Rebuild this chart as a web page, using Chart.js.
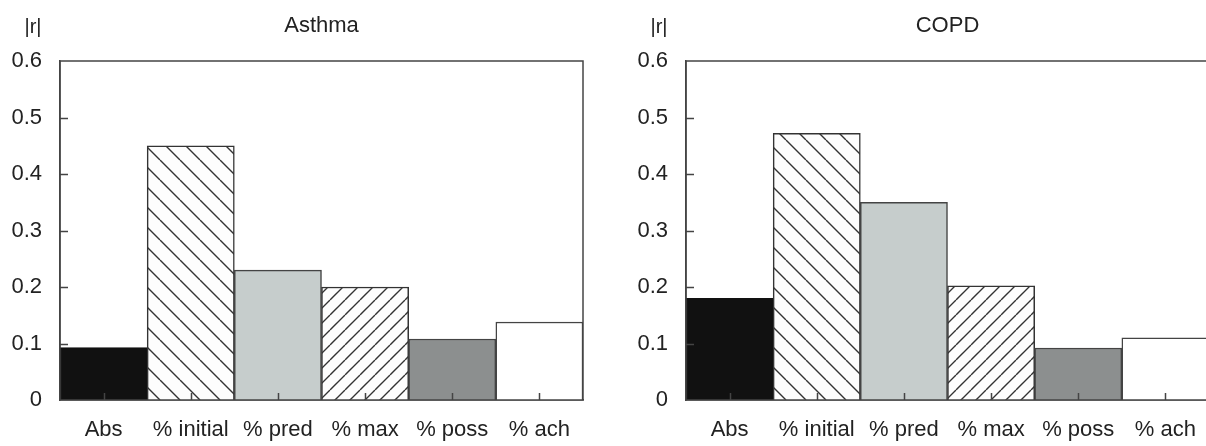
<!DOCTYPE html>
<html>
<head>
<meta charset="utf-8">
<title>|r| Asthma / COPD</title>
<script src="https://cdn.jsdelivr.net/npm/chart.js@4.4.1/dist/chart.umd.min.js"></script>
<style>
    html, body { margin: 0; padding: 0; background: #ffffff; overflow: hidden; }
    body { width: 1206px; height: 446px; position: relative; }
    canvas { position: absolute; top: 0; }
    #asthma-chart { left: 0; }
    #copd-chart { left: 626px; }
</style>
</head>
<body>
<canvas id="asthma-chart" width="600" height="446"></canvas>
<canvas id="copd-chart" width="600" height="446"></canvas>
<script>
// Data
const categories = ['Abs', '% initial', '% pred', '% max', '% poss', '% ach'];
const asthmaValues = [0.093, 0.45, 0.23, 0.20, 0.108, 0.138];
const copdValues = [0.18, 0.472, 0.35, 0.202, 0.092, 0.11];
const yMin = 0;
const yMax = 0.6;
const yStep = 0.1;
const axisLabel = '|r|';

const FONT = '"Liberation Sans", Arial, Helvetica, sans-serif';
const TEXT_COLOR = '#222222';
const LINE_COLOR = '#444444';

// Hatch patterns
function makeHatch(size, backslash) {
    const c = document.createElement('canvas');
    c.width = size;
    c.height = size;
    const ctx = c.getContext('2d');
    ctx.fillStyle = '#fdfdfd';
    ctx.fillRect(0, 0, size, size);
    ctx.strokeStyle = '#333333';
    ctx.lineWidth = 1.4;
    ctx.beginPath();
    for (let k = -1; k <= 1; k++) {
        if (backslash) {
            ctx.moveTo(k * size, 0);
            ctx.lineTo(k * size + size, size);
        } else {
            ctx.moveTo(k * size, size);
            ctx.lineTo(k * size + size, 0);
        }
    }
    ctx.stroke();
    return ctx.createPattern(c, 'repeat');
}

const backHatch = makeHatch(20, true);
const fwdHatch = makeHatch(15, false);

const barColors = ['#111111', backHatch, '#c6cdcc', fwdHatch, '#8c8f8f', '#ffffff'];
const barBorders = ['#111111', '#333333', '#444444', '#333333', '#444444', '#444444'];

// Frame, inward ticks and texts
const framePlugin = {
    id: 'frame',
    afterDatasetsDraw(chart) {
        const { ctx, chartArea } = chart;
        const x = chart.scales.x;
        const y = chart.scales.y;
        ctx.save();
        ctx.strokeStyle = LINE_COLOR;
        ctx.lineWidth = 1.5;
        ctx.beginPath();
        // inward y ticks
        y.ticks.forEach(t => {
            if (t.value <= yMin || t.value >= yMax) return;
            const py = Math.round(y.getPixelForValue(t.value)) + 0.5;
            ctx.moveTo(chartArea.left, py);
            ctx.lineTo(chartArea.left + 8, py);
        });
        // inward x ticks at bar centres
        categories.forEach((c, i) => {
            const px = Math.round(x.getPixelForValue(i)) + 0.5;
            ctx.moveTo(px, chartArea.bottom);
            ctx.lineTo(px, chartArea.bottom - 7);
        });
        ctx.stroke();
        // box
        ctx.strokeRect(chartArea.left, chartArea.top, chartArea.right - chartArea.left, chartArea.bottom - chartArea.top);
        ctx.restore();
    },
    afterDraw(chart, args, opts) {
        const { ctx, chartArea } = chart;
        ctx.save();
        ctx.fillStyle = TEXT_COLOR;
        ctx.textAlign = 'center';
        ctx.textBaseline = 'alphabetic';
        ctx.font = '22px ' + FONT;
        ctx.fillText(opts.title, (chartArea.left + chartArea.right) / 2, 32);
        ctx.font = '20px ' + FONT;
        ctx.fillText(axisLabel, chartArea.left - 27, 33);
        ctx.restore();
    }
};

function renderChart(canvasId, title, values) {
    return new Chart(document.getElementById(canvasId), {
        type: 'bar',
        data: {
            labels: categories,
            datasets: [{
                data: values,
                backgroundColor: barColors,
                borderColor: barBorders,
                borderWidth: 1.5,
                barPercentage: 1.0,
                categoryPercentage: 1.0
            }]
        },
        options: {
            responsive: false,
            animation: false,
            layout: {
                padding: { top: 61, right: 17, bottom: 0, left: 0 }
            },
            plugins: {
                legend: { display: false },
                tooltip: { enabled: false },
                frame: { title: title }
            },
            scales: {
                x: {
                    grid: { display: false },
                    border: { display: true, color: LINE_COLOR, width: 1.5 },
                    ticks: {
                        color: TEXT_COLOR,
                        font: { family: FONT, size: 22 },
                        padding: 9,
                        maxRotation: 0,
                        autoSkip: false
                    },
                    afterFit(scale) { scale.height = 46; }
                },
                y: {
                    min: yMin,
                    max: yMax,
                    grid: { display: false, drawTicks: false },
                    border: { display: true, color: LINE_COLOR, width: 1.5 },
                    ticks: {
                        stepSize: yStep,
                        color: TEXT_COLOR,
                        font: { family: FONT, size: 22 },
                        padding: 18,
                        callback: v => String(Number(v.toFixed(1)))
                    },
                    afterFit(scale) { scale.width = 60; }
                }
            }
        },
        plugins: [framePlugin]
    });
}

renderChart('asthma-chart', 'Asthma', asthmaValues);
renderChart('copd-chart', 'COPD', copdValues);
</script>
</body>
</html>
